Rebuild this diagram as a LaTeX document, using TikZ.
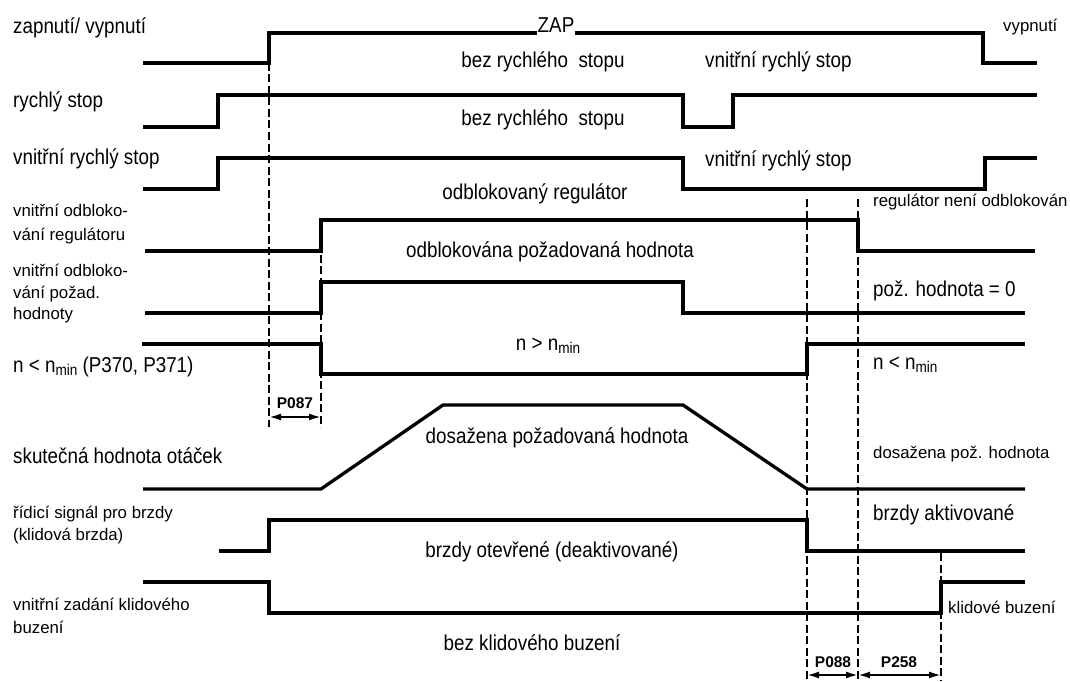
\documentclass[tikz,border=0pt]{standalone}
\usepackage{fontspec}
\setmainfont{Liberation Sans}
\newfontfamily\tallfont[FakeStretch=0.875]{Liberation Sans}
\usetikzlibrary{arrows.meta}
\newcommand\nmin{n\raisebox{-3pt}{\fontsize{15.5}{15.5}\selectfont min}}
\begin{document}
\begin{tikzpicture}[x=1pt,y=-1pt,
 sig/.style={line width=3.3pt, line join=miter, line cap=butt},
 guide/.style={line width=2.4pt, dash pattern=on 8pt off 3.5pt},
 big/.style={font=\tallfont\fontsize{21.5}{24}\selectfont, inner sep=0pt},
 small/.style={font=\fontsize{16.8}{20}\selectfont, inner sep=0pt},
 lft/.style={anchor=base west},
 mid/.style={anchor=base},
 plab/.style={font=\fontsize{15.5}{18}\selectfont\bfseries, inner sep=0pt, anchor=base},
 dim/.style={line width=2pt, {Latex[length=12pt,width=7pt]}-{Latex[length=12pt,width=7pt]}}]
\useasboundingbox[fill=white] (0,0) rectangle (1070,682);

% guide lines
\coordinate (g1t) at (269,63);  \coordinate (g1b) at (269,427);
\coordinate (g2t) at (321,220); \coordinate (g2b) at (321,427);
\coordinate (g3t) at (807,199); \coordinate (g3b) at (807,681);
\coordinate (g4t) at (858,199); \coordinate (g4b) at (858,681);
\coordinate (g5t) at (941,553); \coordinate (g5b) at (941,681);
\draw[guide] (g1t) -- (g1b);
\draw[guide] (g2t) -- (g2b);
\draw[guide] (g3t) -- (g3b);
\draw[guide] (g4t) -- (g4b);
\draw[guide] (g5t) -- (g5b);

% signals
\draw[sig] (143,63) -- (269,63) -- (269,33) -- (537,33);
\draw[sig] (575,33) -- (983,33) -- (983,63) -- (1037,63);
\draw[sig] (143,127) -- (218,127) -- (218,95) -- (683,95) -- (683,127) -- (733,127) -- (733,95) -- (1037,95);
\draw[sig] (143,189) -- (218,189) -- (218,158) -- (683,158) -- (683,189) -- (985,189) -- (985,158) -- (1037,158);
\draw[sig] (145,251) -- (321,251) -- (321,220) -- (858,220) -- (858,251) -- (1035,251);
\draw[sig] (145,313) -- (321,313) -- (321,282) -- (683,282) -- (683,313) -- (1025,313);
\draw[sig] (142,344) -- (321,344) -- (321,374) -- (807,374) -- (807,344) -- (1025,344);
\draw[sig] (143,489) -- (321,489) -- (443,405) -- (683,405) -- (807,489) -- (1025,489);
\draw[sig] (219,551) -- (269,551) -- (269,520) -- (807,520) -- (807,551) -- (1025,551);
\draw[sig] (143,582) -- (269,582) -- (269,613) -- (941,613) -- (941,582) -- (1025,582);

% dimension arrows
\coordinate (a1l) at (269,417); \coordinate (a1r) at (321,417);
\coordinate (a2l) at (807,675); \coordinate (a2r) at (858,675);
\coordinate (a3l) at (858,675); \coordinate (a3r) at (941,675);
\draw[dim] (a1l) -- (a1r);
\draw[dim] (a2l) -- (a2r);
\draw[dim] (a3l) -- (a3r);
\node[plab] (p087) at (295,408) {P087};
\node[plab] (p088) at (833,667) {P088};
\node[plab] (p258) at (899,667) {P258};

% left labels
\node[big,lft] (l1) at (13,34) {zapnutí/ vypnutí};
\node[big,lft] (l2) at (13,107) {rychlý stop};
\node[big,lft] (l3) at (13,164) {vnitřní rychlý stop};
\node[small,lft] (l4a) at (13,216) {vnitřní odbloko-};
\node[small,lft] (l4b) at (13,240) {vání regulátoru};
\node[small,lft] (l5a) at (13,276) {vnitřní odbloko-};
\node[small,lft] (l5b) at (13,298) {vání požad.};
\node[small,lft] (l5c) at (13,319) {hodnoty};
\node[big,lft] (l6) at (13,372) {n < \nmin{} (P370, P371)};
\node[big,lft] (l7) at (13,463) {skutečná hodnota otáček};
\node[small,lft] (l8a) at (13,518) {řídicí signál pro brzdy};
\node[small,lft] (l8b) at (13,540) {(klidová brzda)};
\node[small,lft] (l9a) at (13,610) {vnitřní zadání klidového};
\node[small,lft] (l9b) at (13,633) {buzení};

% state texts
\node[big,mid] (zap) at (556,33) {ZAP};
\node[small,lft] (vyp) at (1003,32) {vypnutí};
\node[big,mid] (t1a) at (543,68) {bez rychlého\ \ stopu};
\node[big,lft] (t1b) at (705,68) {vnitřní rychlý stop};
\node[big,mid] (t2) at (543,125) {bez rychlého\ \ stopu};
\node[big,lft] (t3a) at (705,166) {vnitřní rychlý stop};
\node[big,mid] (t3b) at (535,199) {odblokovaný regulátor};
\node[small,lft] (t4a) at (873,206) {regulátor není odblokován};
\node[big,mid] (t4b) at (550,257) {odblokována požadovaná hodnota};
\node[big,lft] (t5) at (873,296) {pož. hodnota = 0};
\node[big,mid] (t6a) at (548,350) {n > \nmin};
\node[big,lft] (t6b) at (873,369) {n < \nmin};
\node[big,mid] (t7a) at (557,443) {dosažena požadovaná hodnota};
\node[small,lft] (t7b) at (873,458) {dosažena pož. hodnota};
\node[big,mid] (t8a) at (552,557) {brzdy otevřené (deaktivované)};
\node[big,lft] (t8b) at (873,520) {brzdy aktivované};
\node[small,lft] (t9a) at (948,613) {klidové buzení};
\node[big,mid] (t9b) at (532,650) {bez klidového buzení};
\end{tikzpicture}
\end{document}
